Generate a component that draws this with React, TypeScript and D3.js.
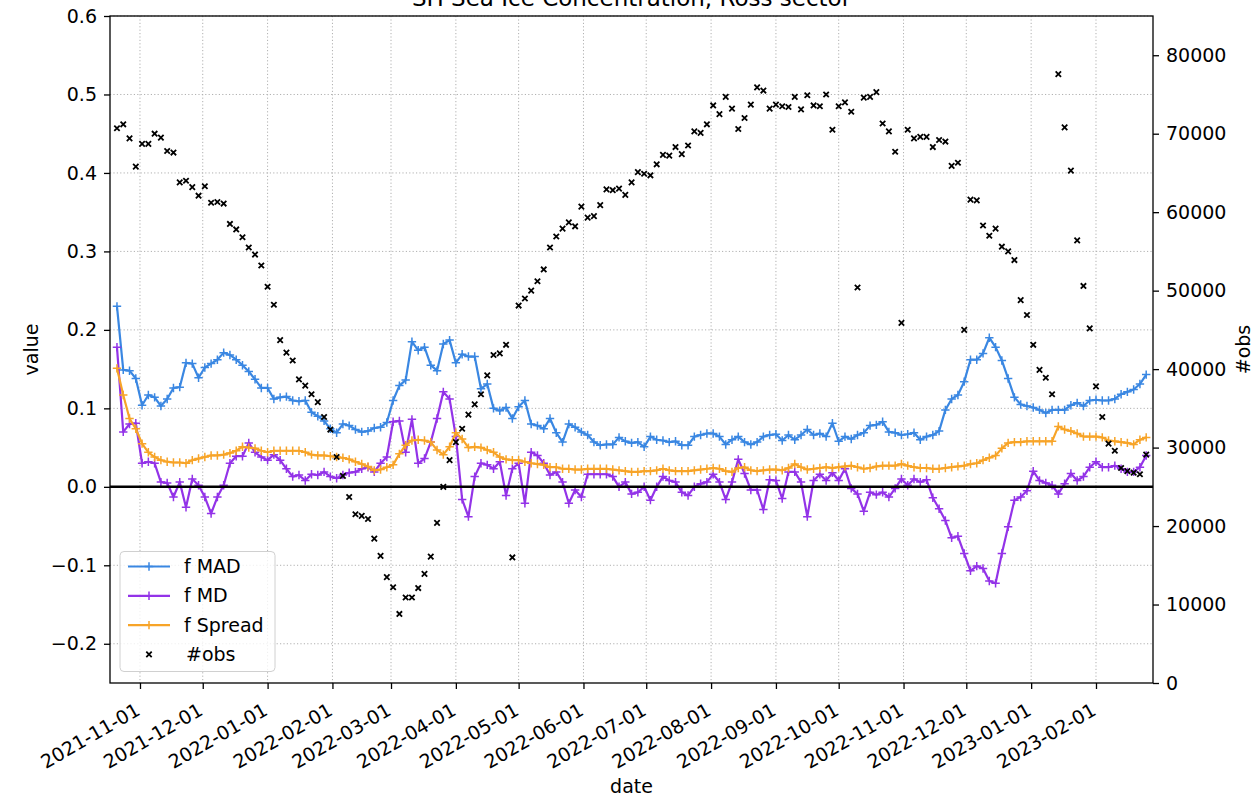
import React, { useEffect, useRef } from "react";
import * as d3 from "d3";

// sampling: one value every 3 days starting here
const firstDate = "2021-10-21";
const dayStep = 3;

const fMAD = [
  0.230, 0.149, 0.148, 0.138, 0.104, 0.117, 0.114, 0.103, 0.112, 0.126,
  0.127, 0.158, 0.157, 0.139, 0.152, 0.157, 0.162, 0.171, 0.168, 0.162,
  0.155, 0.147, 0.137, 0.126, 0.126, 0.112, 0.114, 0.115, 0.110, 0.109,
  0.110, 0.095, 0.090, 0.084, 0.074, 0.069, 0.080, 0.078, 0.073, 0.070,
  0.071, 0.075, 0.076, 0.082, 0.110, 0.129, 0.136, 0.185, 0.174, 0.178,
  0.155, 0.148, 0.182, 0.187, 0.158, 0.169, 0.166, 0.166, 0.125, 0.131,
  0.100, 0.097, 0.101, 0.087, 0.102, 0.110, 0.080, 0.078, 0.074, 0.087,
  0.069, 0.057, 0.080, 0.076, 0.070, 0.066, 0.057, 0.053, 0.054, 0.054,
  0.063, 0.058, 0.056, 0.057, 0.051, 0.064, 0.060, 0.059, 0.057, 0.058,
  0.053, 0.053, 0.064, 0.066, 0.068, 0.068, 0.064, 0.054, 0.060, 0.064,
  0.057, 0.054, 0.057, 0.064, 0.066, 0.067, 0.059, 0.066, 0.060, 0.066,
  0.073, 0.066, 0.068, 0.064, 0.081, 0.058, 0.064, 0.061, 0.066, 0.069,
  0.078, 0.079, 0.083, 0.070, 0.069, 0.066, 0.067, 0.069, 0.060, 0.064,
  0.066, 0.071, 0.098, 0.112, 0.117, 0.134, 0.162, 0.162, 0.170, 0.190,
  0.178, 0.161, 0.138, 0.114, 0.105, 0.103, 0.101, 0.098, 0.094, 0.098,
  0.098, 0.098, 0.104, 0.107, 0.103, 0.110, 0.111, 0.110, 0.110, 0.112,
  0.118, 0.121, 0.124, 0.131, 0.143,
];

const fMD = [
  0.178, 0.070, 0.080, 0.081, 0.030, 0.032, 0.030, 0.006, 0.005, -0.013,
  0.006, -0.026, 0.010, 0.002, -0.013, -0.034, -0.013, 0.002, 0.030, 0.039,
  0.039, 0.056, 0.044, 0.038, 0.034, 0.041, 0.034, 0.023, 0.013, 0.015,
  0.008, 0.016, 0.015, 0.019, 0.013, 0.011, 0.015, 0.018, 0.019, 0.023,
  0.025, 0.019, 0.030, 0.038, 0.083, 0.084, 0.044, 0.086, 0.030, 0.036,
  0.057, 0.087, 0.121, 0.112, 0.064, -0.016, -0.038, 0.013, 0.030, 0.028,
  0.023, 0.032, -0.011, 0.023, 0.030, -0.021, 0.044, 0.040, 0.030, 0.015,
  0.019, 0.006, -0.021, -0.004, -0.013, 0.016, 0.016, 0.016, 0.016, 0.013,
  0.000, 0.006, -0.009, -0.007, 0.000, -0.017, 0.000, 0.013, 0.008, 0.006,
  -0.007, -0.011, 0.000, 0.004, 0.006, 0.016, 0.006, -0.016, 0.006, 0.035,
  0.017, -0.004, -0.004, -0.029, 0.009, 0.008, -0.015, 0.019, 0.019, 0.006,
  -0.038, 0.008, 0.016, 0.008, 0.018, 0.008, 0.023, -0.002, -0.009, -0.031,
  -0.007, -0.010, -0.007, -0.013, -0.002, 0.010, 0.002, 0.010, 0.006, 0.009,
  -0.014, -0.028, -0.043, -0.065, -0.063, -0.085, -0.107, -0.101, -0.104, -0.120,
  -0.123, -0.085, -0.051, -0.017, -0.013, -0.005, 0.020, 0.008, 0.005, 0.002,
  -0.009, 0.004, 0.017, 0.008, 0.013, 0.025, 0.032, 0.025, 0.025, 0.027,
  0.023, 0.019, 0.019, 0.025, 0.040,
];

const fSpread = [
  0.151, 0.117, 0.087, 0.074, 0.055, 0.044, 0.038, 0.034, 0.032, 0.031,
  0.031, 0.030, 0.034, 0.036, 0.038, 0.040, 0.040, 0.041, 0.043, 0.046,
  0.051, 0.050, 0.049, 0.046, 0.044, 0.046, 0.046, 0.046, 0.046, 0.046,
  0.044, 0.041, 0.040, 0.040, 0.039, 0.038, 0.037, 0.035, 0.032, 0.029,
  0.026, 0.021, 0.022, 0.025, 0.028, 0.042, 0.053, 0.059, 0.060, 0.059,
  0.057, 0.047, 0.041, 0.051, 0.069, 0.061, 0.050, 0.051, 0.050, 0.047,
  0.044, 0.038, 0.035, 0.034, 0.034, 0.032, 0.030, 0.029, 0.028, 0.025,
  0.025, 0.023, 0.023, 0.022, 0.022, 0.023, 0.023, 0.023, 0.023, 0.022,
  0.021, 0.020, 0.019, 0.019, 0.020, 0.020, 0.021, 0.023, 0.021, 0.020,
  0.020, 0.020, 0.021, 0.022, 0.023, 0.024, 0.023, 0.020, 0.019, 0.024,
  0.025, 0.021, 0.020, 0.021, 0.022, 0.022, 0.021, 0.024, 0.029, 0.025,
  0.022, 0.023, 0.024, 0.025, 0.024, 0.025, 0.026, 0.027, 0.025, 0.023,
  0.024, 0.026, 0.027, 0.027, 0.027, 0.029, 0.027, 0.025, 0.024, 0.024,
  0.023, 0.023, 0.024, 0.025, 0.026, 0.027, 0.029, 0.030, 0.034, 0.037,
  0.040, 0.049, 0.056, 0.057, 0.057, 0.058, 0.058, 0.058, 0.058, 0.058,
  0.077, 0.073, 0.071, 0.068, 0.064, 0.064, 0.064, 0.063, 0.059, 0.058,
  0.057, 0.056, 0.054, 0.060, 0.063,
];

const nObs = [
  70700, 71200, 69400, 65800, 68700, 68700, 70000, 69500, 67800, 67600,
  63800, 64000, 63200, 62100, 63300, 61200, 61300, 61100, 58500, 57800,
  56800, 55500, 54600, 53200, 50500, 48200, 43700, 42100, 41100, 38700,
  37900, 36800, 35800, 33900, 32300, 28800, 26400, 23700, 21500, 21300,
  20900, 18400, 16200, 13500, 12200, 8800, 10900, 10900, 12100, 13900,
  16100, 20400, 25000, 28400, 30700, 32400, 34200, 35500, 36800, 39200,
  41800, 42000, 43100, 16000, 48100, 49000, 50000, 51200, 52700, 55500,
  56900, 57900, 58700, 58200, 60700, 59300, 59500, 60900, 62900, 62800,
  63000, 62200, 63800, 65100, 64900, 64700, 66100, 67300, 67200, 68300,
  67400, 68500, 70300, 70100, 71200, 73600, 72500, 74700, 73200, 70600,
  72000, 73700, 75900, 75500, 73200, 73700, 73500, 73400, 74700, 73100,
  74900, 73600, 73500, 75000, 70500, 73500, 74000, 72800, 50400, 74600,
  74700, 75300, 71300, 70300, 67700, 45900, 70500, 69400, 69600, 69600,
  68300, 69200, 69000, 65900, 66300, 45000, 61600, 61500, 58300, 57000,
  57900, 55600, 55000, 53900, 48800, 46900, 43100, 39900, 38900, 36800,
  77600, 70800, 65300, 56400, 50600, 45200, 37800, 33900, 30500, 29600,
  27400, 27000, 26800, 26600, 29100,
];

const valueTicks = [-0.2, -0.1, 0.0, 0.1, 0.2, 0.3, 0.4, 0.5, 0.6];
const obsTicks = [0, 10000, 20000, 30000, 40000, 50000, 60000, 70000, 80000];
const dateTicks = [
  "2021-11-01", "2021-12-01", "2022-01-01", "2022-02-01", "2022-03-01",
  "2022-04-01", "2022-05-01", "2022-06-01", "2022-07-01", "2022-08-01",
  "2022-09-01", "2022-10-01", "2022-11-01", "2022-12-01", "2023-01-01",
  "2023-02-01",
];

const seriesNames = ["f MAD", "f MD", "f Spread", "#obs"];
const seriesColors = ["#3a87e2", "#9333e8", "#f7a428"];

function SeaIceChart() {
  const svgRef = useRef(null);

  useEffect(() => {
    const svg = d3.select(svgRef.current);
    svg.selectAll("*").remove();
    const left = 110, right = 1153, top = 16, bottom = 683;
    const font = "DejaVu Sans, sans-serif";

    const parse = d3.utcParse("%Y-%m-%d");
    const t0 = parse(firstDate);
    const dates = fMAD.map((_, i) => d3.utcDay.offset(t0, i * dayStep));

    const xScale = d3
      .scaleUtc()
      .domain([d3.utcHour.offset(t0, -80), d3.utcHour.offset(dates[dates.length - 1], 78)])
      .range([left, right]);
    const yScale = d3.scaleLinear().domain([-0.25, 0.6]).range([bottom, top]);
    const obsScale = d3.scaleLinear().domain([0, 85000]).range([bottom, top]);

    // grid
    const grid = svg.append("g").attr("stroke", "#b0b0b0").attr("stroke-width", 1).attr("stroke-dasharray", "1.2,2.2");
    dateTicks.forEach((d) => {
      const x = xScale(parse(d));
      grid.append("line").attr("x1", x).attr("x2", x).attr("y1", top).attr("y2", bottom);
    });
    valueTicks.forEach((v) => {
      grid.append("line").attr("x1", left).attr("x2", right).attr("y1", yScale(v)).attr("y2", yScale(v));
    });

    // lines with + markers
    const plus = "M-4.2,0H4.2M0,-4.2V4.2";
    [fMAD, fMD, fSpread].forEach((vals, si) => {
      const line = d3
        .line()
        .x((d, i) => xScale(dates[i]))
        .y((d) => yScale(d));
      svg
        .append("path")
        .attr("d", line(vals))
        .attr("fill", "none")
        .attr("stroke", seriesColors[si])
        .attr("stroke-width", 2.2)
        .attr("stroke-linejoin", "round");
      svg
        .append("g")
        .selectAll("path")
        .data(vals)
        .enter()
        .append("path")
        .attr("d", plus)
        .attr("transform", (d, i) => `translate(${xScale(dates[i])},${yScale(d)})`)
        .attr("stroke", seriesColors[si])
        .attr("stroke-width", 1.5);
    });

    // zero line
    svg
      .append("line")
      .attr("x1", left)
      .attr("x2", right)
      .attr("y1", yScale(0))
      .attr("y2", yScale(0))
      .attr("stroke", "black")
      .attr("stroke-width", 2.6);

    // obs (twin axis)
    const cross = "M-2.7,-2.7L2.7,2.7M-2.7,2.7L2.7,-2.7";
    svg
      .append("g")
      .selectAll("path")
      .data(nObs)
      .enter()
      .append("path")
      .attr("d", cross)
      .attr("transform", (d, i) => `translate(${xScale(dates[i])},${obsScale(d)})`)
      .attr("stroke", "black")
      .attr("stroke-width", 1.8);

    // frame
    svg
      .append("rect")
      .attr("x", left)
      .attr("y", top)
      .attr("width", right - left)
      .attr("height", bottom - top)
      .attr("fill", "none")
      .attr("stroke", "black")
      .attr("stroke-width", 1.3);

    const styleAxis = (g) => {
      g.select(".domain").remove();
      g.selectAll("line").attr("stroke", "black").attr("stroke-width", 1.3);
      g.selectAll("text").attr("fill", "black").attr("font-size", 19).attr("font-family", font);
    };

    const fmtVal = (v) => v.toFixed(1).replace("-", "\u2212");
    svg
      .append("g")
      .attr("transform", `translate(${left},0)`)
      .call(d3.axisLeft(yScale).tickValues(valueTicks).tickSize(6).tickPadding(7).tickFormat(fmtVal))
      .call(styleAxis);

    svg
      .append("g")
      .attr("transform", `translate(${right},0)`)
      .call(d3.axisRight(obsScale).tickValues(obsTicks).tickSize(6).tickPadding(7).tickFormat(d3.format("d")))
      .call(styleAxis);

    svg
      .append("g")
      .attr("transform", `translate(0,${bottom})`)
      .call(d3.axisBottom(xScale).tickValues(dateTicks.map((d) => parse(d))).tickSize(6).tickFormat(d3.utcFormat("%Y-%m-%d")))
      .call(styleAxis)
      .selectAll("text")
      .attr("x", 0)
      .attr("y", 0)
      .attr("dy", 0)
      .attr("text-anchor", "end")
      .attr("transform", "translate(1,31) rotate(-30)");

    // labels
    svg
      .append("text")
      .attr("x", (left + right) / 2)
      .attr("y", 6)
      .attr("text-anchor", "middle")
      .attr("font-size", 23)
      .attr("font-family", font)
      .text("SH Sea Ice Concentration, Ross sector");
    svg
      .append("text")
      .attr("x", (left + right) / 2)
      .attr("y", 793)
      .attr("text-anchor", "middle")
      .attr("font-size", 19)
      .attr("font-family", font)
      .text("date");
    svg
      .append("text")
      .attr("transform", `translate(38,${(top + bottom) / 2}) rotate(-90)`)
      .attr("text-anchor", "middle")
      .attr("font-size", 19)
      .attr("font-family", font)
      .text("value");
    svg
      .append("text")
      .attr("transform", `translate(1250,${(top + bottom) / 2}) rotate(-90)`)
      .attr("text-anchor", "middle")
      .attr("font-size", 19)
      .attr("font-family", font)
      .text("#obs");

    // legend
    const leg = svg.append("g");
    leg
      .append("rect")
      .attr("x", 120)
      .attr("y", 551.5)
      .attr("width", 155)
      .attr("height", 120)
      .attr("rx", 4)
      .attr("fill", "white")
      .attr("fill-opacity", 0.8)
      .attr("stroke", "#d0d0d0")
      .attr("stroke-width", 1);
    seriesNames.forEach((name, i) => {
      const y = 566.5 + i * 29.3;
      if (i < 3) {
        leg.append("line").attr("x1", 128).attr("x2", 170).attr("y1", y).attr("y2", y)
          .attr("stroke", seriesColors[i]).attr("stroke-width", 2.2);
        leg.append("path").attr("d", plus).attr("transform", `translate(149,${y})`)
          .attr("stroke", seriesColors[i]).attr("stroke-width", 1.5);
      } else {
        leg.append("path").attr("d", cross).attr("transform", `translate(149,${y})`)
          .attr("stroke", "black").attr("stroke-width", 1.8);
      }
      leg
        .append("text")
        .attr("x", i < 3 ? 184 : 186)
        .attr("y", y)
        .attr("dy", "0.35em")
        .attr("font-size", 19)
        .attr("font-family", font)
        .text(name);
    });
  }, []);

  return <svg ref={svgRef} width={1257} height={798} style={{ position: "absolute", left: 0, top: 0 }} />;
}

export default function App() {
  return <SeaIceChart />;
}
